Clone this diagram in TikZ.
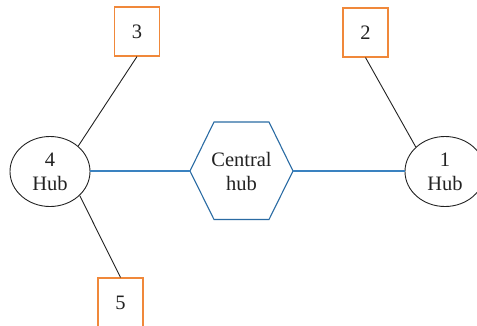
\documentclass[tikz,border=0pt]{standalone}
\usepackage{fontspec}
\setmainfont{Liberation Serif}
\usetikzlibrary{shapes.geometric}
\definecolor{boxorange}{HTML}{F0883A}
\definecolor{hubblue}{HTML}{2A6BA3}
\definecolor{linkblue}{HTML}{3A82C0}
\definecolor{linegray}{HTML}{222222}
\begin{document}
\begin{tikzpicture}[x=1pt,y=-1pt,
  every node/.style={font=\fontsize{20.5}{24}\selectfont, text=linegray, align=center},
  leaf/.style={draw=boxorange, line width=1.1pt, minimum width=45pt, minimum height=49pt, inner sep=0pt},
  hub/.style={ellipse, draw=linegray, line width=0.9pt, minimum width=80pt, minimum height=70pt, inner sep=0pt},
  spoke/.style={draw=linegray, line width=0.9pt},
  trunk/.style={draw=hubblue, line width=1.1pt},
  link/.style={draw=linkblue, line width=1.3pt}]
\useasboundingbox (0,0) rectangle (477,325);

% leaf boxes
\node[leaf] (b3) at (137,31.5) {3};
\node[leaf] (b2) at (365.5,32.5) {2};
\node[leaf] (b5) at (120.5,302.5) {5};

% hubs
\node[hub] (h4) at (50,171.5) {4\\Hub};
\node[hub] (h1) at (445,171.5) {1\\Hub};

% central hexagon
\coordinate (hexL) at (190,171);
\coordinate (hexR) at (293,171);
\draw[trunk] (hexL) -- (214,122) -- (269,122) -- (hexR) -- (269,219.5) -- (214,219.5) -- cycle;
\node (hub) at (241.5,171.5) {Central\\hub};

% connectors
\draw[spoke] (b3.south) -- (h4.42);
\draw[spoke] (h4.-39) -- (b5.north);
\draw[spoke] (b2.south) -- (h1.140);
\draw[link] (h4.east |- hexL) -- (hexL);
\draw[link] (hexR) -- (h1.west |- hexR);
\end{tikzpicture}
\end{document}
